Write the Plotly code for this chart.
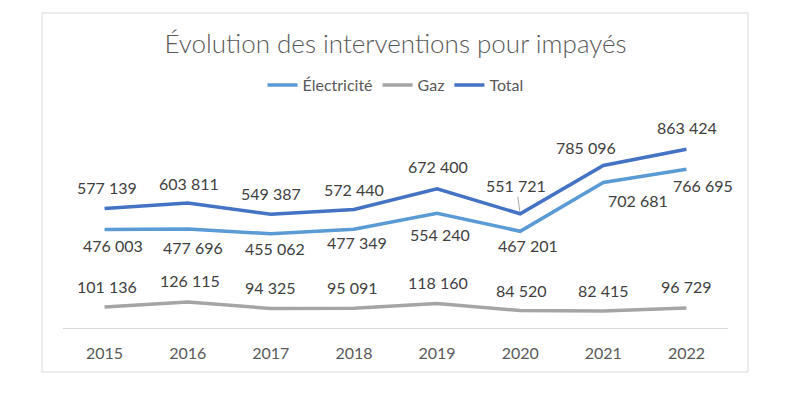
import plotly.graph_objects as go

years = ["2015", "2016", "2017", "2018", "2019", "2020", "2021", "2022"]
electricite = [476003, 477696, 455062, 477349, 554240, 467201, 702681, 766695]
gaz = [101136, 126115, 94325, 95091, 118160, 84520, 82415, 96729]
total = [577139, 603811, 549387, 572440, 672400, 551721, 785096, 863424]

# label offsets in pixels (style only)
off_total = [(2, -21), (1, -20), (0, -21), (0, -20), (1, -22), (-4, -28), (-17, -18), (1, -22)]
off_elec = [(8, 16), (5, 18), (4, 15), (3, 13), (3, 21), (8, 14), (35, 18), (17, 16)]
off_gaz = [(2, -21), (2, -21), (0, -21), (-1, -21), (1, -21), (1, -20), (0, -20), (0, -21)]

W, H = 785, 398
L, R, T, B = 63, 57, 121, 70

def fmt(v):
    return f"{v:,}".replace(",", " ")

fig = go.Figure()
series = [
    ("Électricité", electricite, "#5B9BD5"),
    ("Gaz", gaz, "#A5A5A5"),
    ("Total", total, "#4472C4"),
]
for name, vals, col in series:
    fig.add_trace(go.Scatter(x=years, y=vals, mode="lines", name=name,
                             line=dict(color=col, width=3.5), hoverinfo="skip"))

lab_font = dict(family="Lato", size=16, color="#404040")
ann = []
for key, vals, offs in [("t", total, off_total), ("e", electricite, off_elec), ("g", gaz, off_gaz)]:
    for i, v in enumerate(vals):
        dx, dy = offs[i]
        if key == "t" and i == 5:
            ann.append(dict(x=i, y=v, xref="x", yref="y", text=fmt(v), showarrow=True,
                            arrowhead=0, arrowwidth=1, arrowcolor="#A6A6A6", ax=dx, ay=dy,
                            standoff=2, font=lab_font))
        else:
            ann.append(dict(x=i, y=v, xref="x", yref="y", text=fmt(v), showarrow=False,
                            xshift=dx, yshift=-dy, font=lab_font))

pw = W - L - R
ph = H - T - B
shapes = [dict(type="rect", xref="paper", yref="paper",
               x0=(42 - L) / pw, x1=(748 - L) / pw,
               y0=(H - B - 372) / ph, y1=(H - B - 13) / ph,
               line=dict(color="#D9D9D9", width=1), fillcolor="rgba(0,0,0,0)", layer="below")]

fig.update_layout(
    width=W, height=H,
    margin=dict(l=L, r=R, t=T, b=B),
    paper_bgcolor="white", plot_bgcolor="white",
    title=dict(text="Évolution des interventions pour impayés", x=0.5, xref="paper",
               xanchor="center", y=1 - 44 / H, yanchor="middle",
               font=dict(family="Lato", size=26, color="#595959", weight=300)),
    legend=dict(orientation="h", x=0.5, xanchor="center", xref="paper",
                y=(H - B - 85) / ph, yanchor="middle",
                font=dict(family="Lato", size=16, color="#595959"),
                itemwidth=30, tracegroupgap=0, bgcolor="rgba(0,0,0,0)"),
    xaxis=dict(type="category", range=[-0.5, 7.5], showgrid=False, zeroline=False,
               showline=True, linecolor="#D9D9D9", linewidth=1,
               ticks="outside", ticklen=11, tickcolor="rgba(0,0,0,0)",
               tickfont=dict(family="Lato", size=16, color="#595959"), fixedrange=True),
    yaxis=dict(range=[0, 1000000], visible=False, showgrid=False, zeroline=False, fixedrange=True),
    annotations=ann,
    shapes=shapes,
    showlegend=True,
)

fig.write_html("out.html", config={"displayModeBar": False},
               post_script="document.body.style.margin='0';")
